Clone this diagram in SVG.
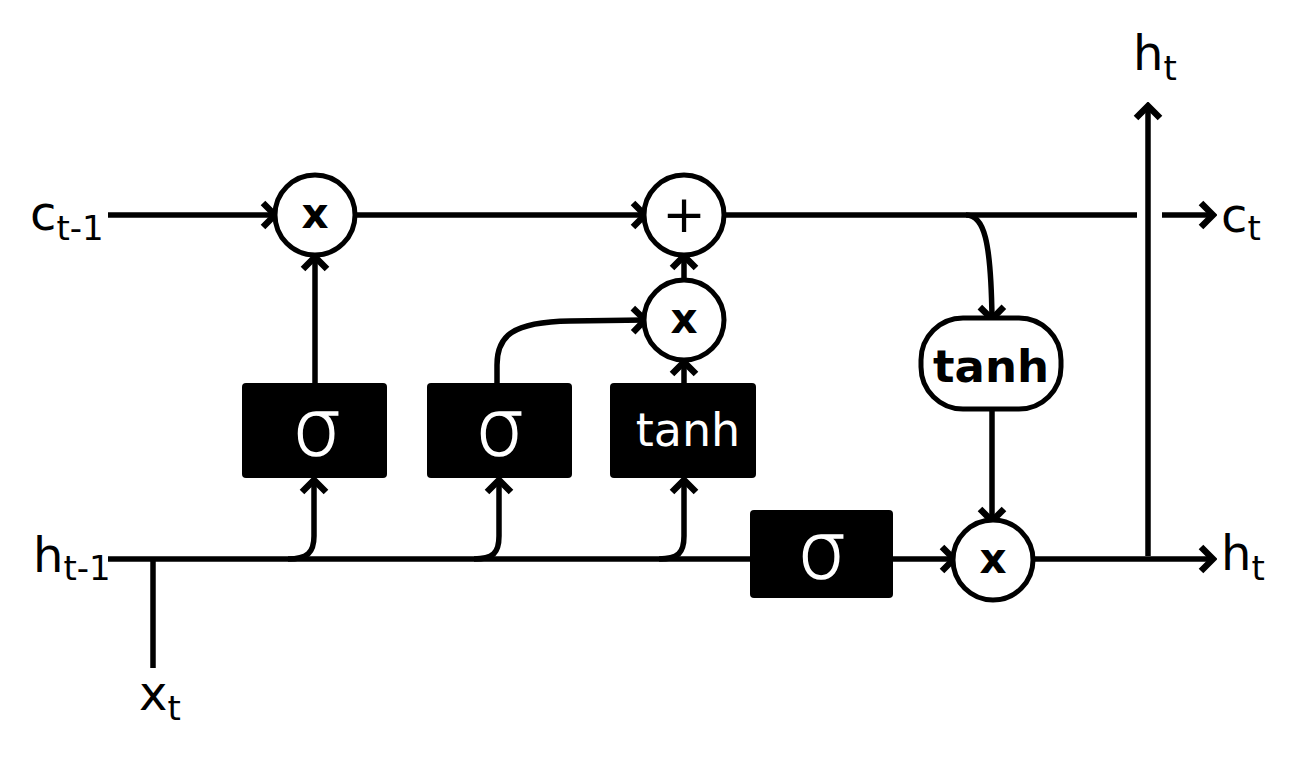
<svg xmlns="http://www.w3.org/2000/svg" width="1312" height="767" viewBox="0 0 1312 767">
<style>
.ln{fill:none;stroke:#000;stroke-width:5.5}
.arr{marker-end:url(#chev)}
.op{fill:#fff;stroke:#000;stroke-width:5}
.blk{fill:#000}
.lbl{font-family:"DejaVu Sans",sans-serif;font-size:48px;fill:#000}
.sub{font-size:34px}
.sig{font-family:"DejaVu Sans",sans-serif;font-weight:200;font-size:78px;fill:#fff;stroke:#fff;stroke-width:1.6;text-anchor:middle}
.tw{font-family:"DejaVu Sans",sans-serif;font-size:46px;fill:#fff;text-anchor:middle}
.opt{font-family:"DejaVu Sans",sans-serif;font-weight:bold;fill:#000;text-anchor:middle}
</style>
<defs>
<marker id="chev" viewBox="-20 -16 24 32" refX="0" refY="0" markerUnits="userSpaceOnUse" markerWidth="24" markerHeight="32" orient="auto">
<path d="M -12 -12 L 0 0 L -12 12" fill="none" stroke="#000" stroke-width="6.5"/>
</marker>
</defs>
<rect width="1312" height="767" fill="#fff"/>
<g id="connectors">
<path class="ln arr" d="M 108 215 L 275 215"/>
<path class="ln arr" d="M 356 215 L 645 215"/>
<path class="ln" d="M 724 215 L 1137 215"/>
<path class="ln arr" d="M 1162 215 L 1213 215"/>
<path class="ln arr" d="M 966 215 C 984 215 991 240 992 319"/>
<path class="ln arr" d="M 992 410 L 992 521"/>
<path class="ln arr" d="M 108 559 L 954 559"/>
<path class="ln arr" d="M 1033 559 L 1213 559"/>
<path class="ln arr" d="M 1148 556 L 1148 106"/>
<path class="ln" d="M 153 559 L 153 668"/>
<path class="ln arr" d="M 288 559 C 307 559 314 553 314 536 L 314 480"/>
<path class="ln arr" d="M 474 559 C 493 559 499 553 499 536 L 499 480"/>
<path class="ln arr" d="M 659 559 C 678 559 684 553 684 536 L 684 480"/>
<path class="ln arr" d="M 315 383 L 315 257"/>
<path class="ln arr" d="M 497 383 L 497 365 C 497 336 512 322 570 321 L 645 320"/>
<path class="ln arr" d="M 684 383 L 684 362"/>
<path class="ln arr" d="M 684 279 L 684 256"/>
</g>
<g id="mul1"><circle class="op" cx="315" cy="215" r="40"/><text class="opt" x="315" y="228" font-size="42">x</text></g>
<g id="add"><circle class="op" cx="684" cy="215" r="40"/><text x="684" y="232" font-family="DejaVu Sans,sans-serif" font-size="52" text-anchor="middle">+</text></g>
<g id="mul2"><circle class="op" cx="684" cy="320" r="40"/><text class="opt" x="684" y="333" font-size="42">x</text></g>
<g id="mul3"><circle class="op" cx="993" cy="560" r="40"/><text class="opt" x="993" y="573" font-size="42">x</text></g>
<g id="tanh_out"><rect class="op" x="921" y="318" width="140" height="91" rx="42" ry="42"/><text class="opt" x="991" y="382" font-size="45">tanh</text></g>
<g id="sigma1"><rect class="blk" x="242" y="383" width="145" height="95" rx="4"/><text class="sig" x="317" y="455">σ</text></g>
<g id="sigma2"><rect class="blk" x="427" y="383" width="145" height="95" rx="4"/><text class="sig" x="500" y="455">σ</text></g>
<g id="tanh_gate"><rect class="blk" x="610" y="383" width="146" height="95" rx="4"/><text class="tw" x="688" y="446">tanh</text></g>
<g id="sigma3"><rect class="blk" x="750" y="510" width="143" height="88" rx="4"/><text class="sig" x="822" y="578">σ</text></g>
<g id="labels">
<text class="lbl" x="30" y="230">c<tspan class="sub" dy="10">t-1</tspan></text>
<text class="lbl" x="33" y="572">h<tspan class="sub" dy="8">t-1</tspan></text>
<text class="lbl" x="139" y="710">x<tspan class="sub" dy="10">t</tspan></text>
<text class="lbl" x="1133" y="70">h<tspan class="sub" dy="10">t</tspan></text>
<text class="lbl" x="1221" y="232">c<tspan class="sub" dy="8">t</tspan></text>
<text class="lbl" x="1221" y="570">h<tspan class="sub" dy="10">t</tspan></text>
</g>
</svg>
